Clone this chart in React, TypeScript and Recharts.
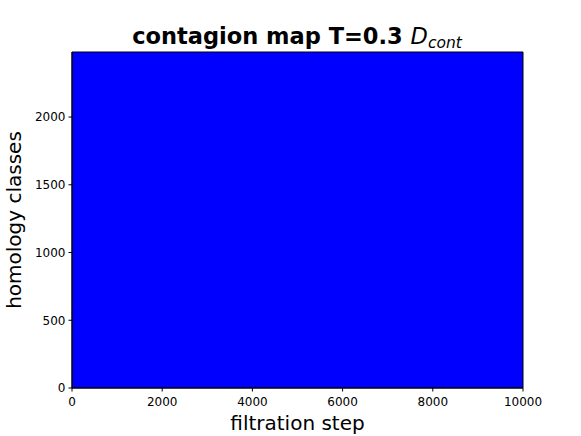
import { Area, ComposedChart, Label, ReferenceArea, XAxis, YAxis } from 'recharts';

// filtration steps (x) and number of homology classes alive (y)
const steps = [0, 10000];
const classes = [2480, 2480];

const xTicks = [0, 2000, 4000, 6000, 8000, 10000];
const yTicks = [0, 500, 1000, 1500, 2000];
const yMax = 2480;

const data = steps.map((step, i) => ({ step, classes: classes[i] }));

const font = 'DejaVu Sans';

const App = () => {
	return (
		<div
			style={{
				position: 'absolute',
				left: 0,
				top: 0,
				width: 581,
				height: 436,
				background: '#fff',
				fontFamily: font,
			}}
		>
			<ComposedChart
				width={581}
				height={436}
				data={data}
				margin={{ top: 52, right: 58, bottom: 0, left: 12 }}
			>
				<XAxis
					dataKey="step"
					type="number"
					domain={[0, 10000]}
					ticks={xTicks}
					height={48}
					stroke="#000"
					tickSize={3.5}
					tickMargin={6}
					tick={{ fill: '#000', fontSize: 12 }}
				>
					<Label
						value="filtration step"
						position="insideBottom"
						offset={6}
						fontSize={20}
						fill="#000"
					/>
				</XAxis>
				<YAxis
					type="number"
					domain={[0, yMax]}
					ticks={yTicks}
					width={60}
					stroke="#000"
					tickSize={3.5}
					tickMargin={3}
					tick={{ fill: '#000', fontSize: 12 }}
				>
					<Label
						value="homology classes"
						angle={-90}
						position="insideLeft"
						offset={2.4}
						fontSize={20}
						fill="#000"
						style={{ textAnchor: 'middle' }}
					/>
				</YAxis>
				<Area
					type="linear"
					dataKey="classes"
					fill="#0000ff"
					fillOpacity={1}
					stroke="none"
					isAnimationActive={false}
				/>
				<ReferenceArea
					x1={0}
					x2={10000}
					y1={0}
					y2={yMax}
					fill="none"
					stroke="#000"
					strokeWidth={1}
					fillOpacity={0}
					strokeOpacity={1}
				/>
			</ComposedChart>
			<svg
				width={581}
				height={60}
				style={{ position: 'absolute', left: 0, top: 0, pointerEvents: 'none' }}
			>
				<text x={297} y={43.5} textAnchor="middle" fontSize={22.5} fontFamily={font} fill="#000">
					<tspan fontWeight="bold">{'contagion map T=0.3 '}</tspan>
					<tspan fontStyle="italic">D</tspan>
					<tspan fontStyle="italic" fontSize={15.5} dy={4.5}>
						cont
					</tspan>
				</text>
			</svg>
		</div>
	);
};

export default App;
